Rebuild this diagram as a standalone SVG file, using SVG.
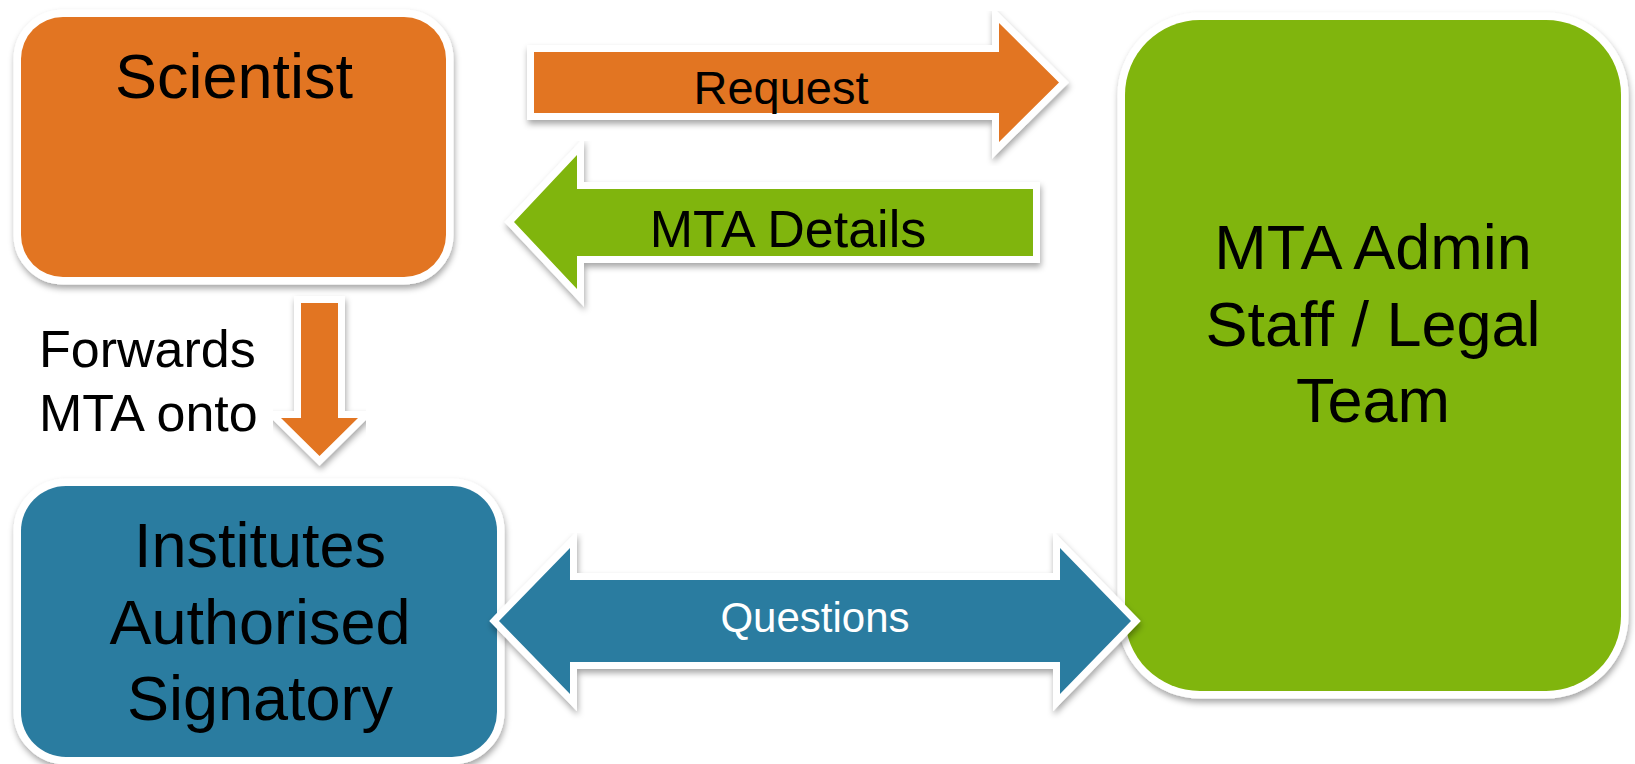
<svg xmlns="http://www.w3.org/2000/svg" width="1635" height="764" viewBox="0 0 1635 764">
<defs>
<filter id="sh" x="-10%" y="-10%" width="120%" height="130%">
<feDropShadow dx="1" dy="4" stdDeviation="3" flood-color="#000" flood-opacity="0.35"/>
</filter>
<style>
.box{stroke:#fff;stroke-width:15;paint-order:stroke;filter:url(#sh)}
.arr{stroke:#fff;stroke-width:14;paint-order:stroke;stroke-linejoin:miter;filter:url(#sh)}
.orange{fill:#E27520}
.green{fill:#80B508}
.blue{fill:#2C7CA0}
text{font-family:"Liberation Sans",Arial,sans-serif;fill:#000}
.big{font-size:63px;text-anchor:middle}
</style>
</defs>
<rect width="1635" height="764" fill="#fff"/>
<g id="scientist">
<rect class="box orange" x="21" y="17" width="425" height="260" rx="42" ry="42"/>
<text class="big" x="234" y="98">Scientist</text>
</g>
<g id="connectors">
<g id="request">
<path class="arr orange" d="M534,52 H999 V23 L1059,82.5 L999,142 V113 H534 Z"/>
<text x="781" y="104" font-size="47" text-anchor="middle">Request</text>
</g>
<g id="mta-details">
<path class="arr green" d="M514,222 L577,155 V189 H1033 V256 H577 V289 Z"/>
<text x="788" y="247" font-size="52" text-anchor="middle">MTA Details</text>
</g>
<g id="forwards">
<path class="arr orange" d="M301,303 H338 V418 H358 L319.5,456 L281,418 H301 Z"/>
<text x="39" y="367" font-size="52">Forwards</text>
<text x="39" y="431" font-size="52">MTA onto</text>
</g>
</g>
<g id="signatory">
<rect class="box blue" x="21" y="486" width="476" height="271" rx="45" ry="45"/>
<text class="big" x="260" y="567">Institutes</text>
<text class="big" x="260" y="644">Authorised</text>
<text class="big" x="260" y="720">Signatory</text>
</g>
<g id="legal">
<rect class="box green" x="1125" y="20" width="496" height="671" rx="75" ry="75"/>
<text class="big" x="1373" y="269">MTA Admin</text>
<text class="big" x="1373" y="346">Staff / Legal</text>
<text class="big" x="1373" y="422">Team</text>
</g>
<g id="connectors-2">
<g id="questions">
<path class="arr blue" d="M499,621 L570,548 V580 H1060 V548 L1131,621 L1060,694 V662 H570 V694 Z"/>
<text x="815" y="632" font-size="42" text-anchor="middle" style="fill:#fff">Questions</text>
</g>
</g>
</svg>
